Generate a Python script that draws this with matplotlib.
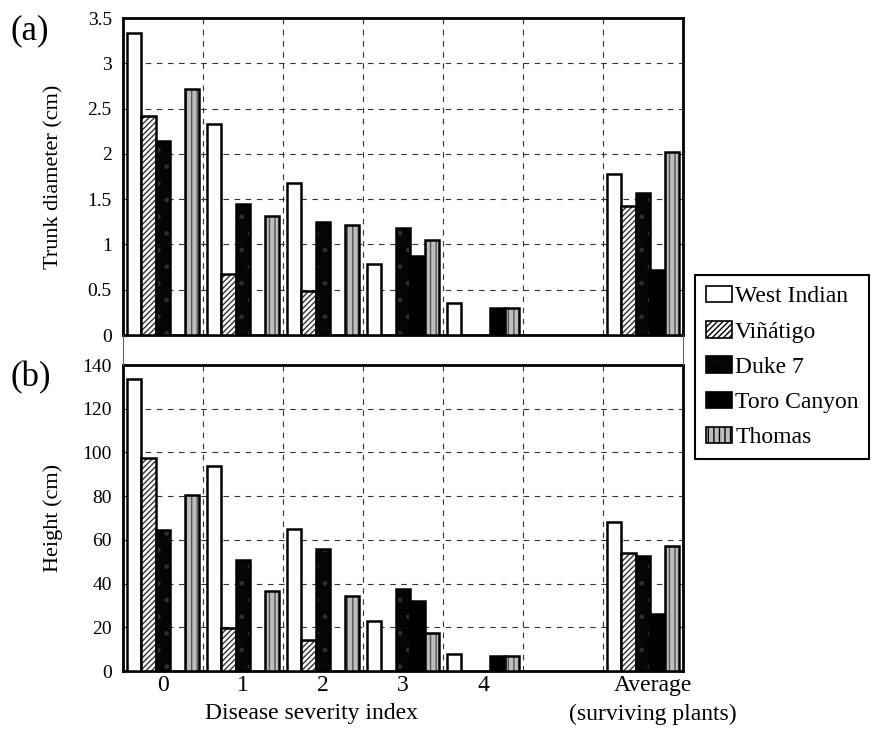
import numpy as np
import matplotlib
matplotlib.use("Agg")
import matplotlib.pyplot as plt
from matplotlib.lines import Line2D
from matplotlib.patches import Patch
from matplotlib.transforms import ScaledTranslation

plt.rcParams['font.family'] = ['Liberation Serif', 'DejaVu Serif']
plt.rcParams['hatch.linewidth'] = 1.0

# categories on the x axis (slot 5 is left empty)
categories = ['0', '1', '2', '3', '4', '', 'Average\n(surviving plants)']
cultivars = ['West Indian', 'Viñátigo', 'Duke 7', 'Toro Canyon', 'Thomas']
nan = np.nan

# (a) trunk diameter (cm)
diam_west_indian = [3.33, 2.33, 1.68, 0.78, 0.35, nan, 1.78]
diam_vinatigo    = [2.42, 0.67, 0.49, nan,  nan,  nan, 1.42]
diam_duke7       = [2.14, 1.45, 1.25, 1.18, nan,  nan, 1.57]
diam_toro_canyon = [nan,  nan,  nan,  0.87, 0.30, nan, 0.72]
diam_thomas      = [2.72, 1.32, 1.21, 1.05, 0.30, nan, 2.02]

# (b) height (cm)
height_west_indian = [133.7, 93.6, 64.9, 22.8, 8.0, nan, 68.3]
height_vinatigo    = [97.4, 19.9, 14.4, nan,  nan, nan, 54.1]
height_duke7       = [64.5, 50.8, 55.8, 37.5, nan, nan, 52.8]
height_toro_canyon = [nan,  nan,  nan,  32.0, 6.7, nan, 25.9]
height_thomas      = [80.3, 36.6, 34.4, 17.4, 6.7, nan, 57.3]

diam = [diam_west_indian, diam_vinatigo, diam_duke7, diam_toro_canyon, diam_thomas]
height = [height_west_indian, height_vinatigo, height_duke7, height_toro_canyon, height_thomas]

# face colour, hatch, hatch colour for each cultivar
styles = [('white', None, 'black'),
          ('white', '//////', '#333333'),
          ('#050505', '.', '#2e2e2e'),
          ('black', None, 'black'),
          ('#bdbdbd', '|||', '#555555')]

fig = plt.figure(figsize=(8.91, 7.30), dpi=100)
ax1 = fig.add_axes([0.138, 0.541, 0.6286, 0.4343])
ax2 = fig.add_axes([0.138, 0.0808, 0.6286, 0.4192])

x = np.arange(len(categories))
w = 0.18


def draw(ax, series, yticks, ylabel):
    for i, vals in enumerate(series):
        fc, hatch, hc = styles[i]
        pos = x + (i - 2) * w
        if hatch:
            ax.bar(pos, vals, w, color=fc, hatch=hatch, edgecolor=hc, linewidth=0, zorder=3)
            ax.bar(pos, vals, w, fill=False, edgecolor='black', linewidth=1.8, zorder=4)
        else:
            ax.bar(pos, vals, w, color=fc, edgecolor='black', linewidth=1.8, zorder=3)
    ax.set_xlim(-0.5, len(categories) - 0.5)
    ax.set_ylim(yticks[0], yticks[-1])
    ax.set_yticks(yticks)
    ax.set_yticklabels(['%g' % t for t in yticks], fontsize=14)
    ax.set_xticks(x)
    ax.set_xticks(x[:-1] + 0.5, minor=True)
    ax.tick_params(axis='y', length=0, pad=8)
    ax.tick_params(axis='x', which='both', length=0, pad=3)
    ax.grid(True, axis='y', which='major', color='#333333', linestyle=(0, (5, 5)), linewidth=0.8)
    ax.grid(True, axis='x', which='minor', color='#333333', linestyle=(0, (5, 5)), linewidth=0.8)
    ax.set_axisbelow(True)
    for s in ax.spines.values():
        s.set_linewidth(2)
    ax.set_ylabel(ylabel, fontsize=16)
    ax.yaxis.set_label_coords(-0.107, 0.5)


draw(ax1, diam, np.arange(0, 3.51, 0.5), 'Trunk diameter (cm)')
ax1.set_xticklabels([])
draw(ax2, height, np.arange(0, 141, 20), 'Height (cm)')
ax2.set_xticklabels(categories, fontsize=17, linespacing=1.45)
last = ax2.get_xticklabels()[-1]
last.set_transform(last.get_transform() + ScaledTranslation(7 / 72, 0, fig.dpi_scale_trans))
ax2.text(0.336, -0.138, 'Disease severity index', transform=ax2.transAxes,
         ha='center', va='center', fontsize=17)

fig.text(0.012, 0.958, '(a)', fontsize=25, va='center', ha='left')
fig.text(0.012, 0.482, '(b)', fontsize=25, va='center', ha='left')

# thin lines joining the two panels
for xf in (0.138, 0.7666):
    fig.add_artist(Line2D([xf, xf], [0.5, 0.541], color='#666666', linewidth=0.8))

handles = []
for i, name in enumerate(cultivars):
    fc, hatch, hc = styles[i]
    handles.append(Patch(facecolor=fc, hatch=hatch, edgecolor='black', linewidth=1.2, label=name))
leg = fig.legend(handles=handles, loc='upper left', bbox_to_anchor=(0.780, 0.623),
                 fontsize=17, frameon=True, fancybox=False, edgecolor='black', framealpha=1,
                 handlelength=1.1, handleheight=0.7, handletextpad=0.15,
                 labelspacing=0.58, borderpad=0.45, borderaxespad=0)
leg.get_frame().set_linewidth(1.5)

fig.savefig('out.png', dpi=100)
